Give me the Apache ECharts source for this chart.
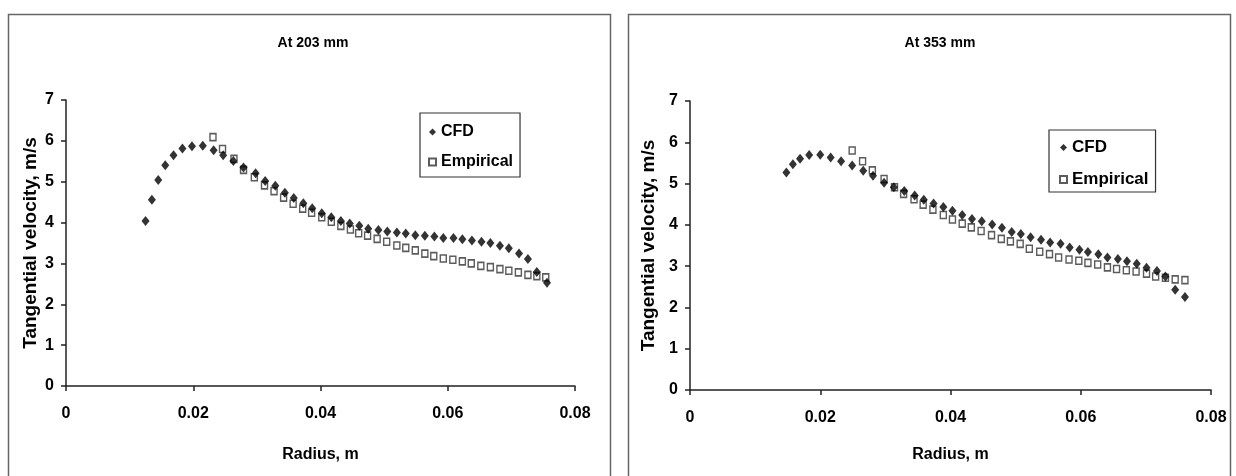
<!DOCTYPE html>
<html>
<head>
<meta charset="utf-8">
<script src="https://cdn.jsdelivr.net/npm/echarts@6/dist/echarts.min.js"></script>
<style>
html,body{margin:0;padding:0;background:#fff;}
#c{width:1236px;height:476px;}
</style>
</head>
<body>
<div id="c"></div>
<script>
// ---- Data ----
const titles = ['At 203 mm', 'At 353 mm'];
const xTicks = [0, 0.02, 0.04, 0.06, 0.08];
const yTicks = [0, 1, 2, 3, 4, 5, 6, 7];

const cfd203X = [0.0125,0.0135,0.0145,0.0156,0.0169,0.0183,0.0198,0.0215,0.0232,0.0247,0.0263,0.0279,0.0298,0.0313,0.0329,0.0344,0.0358,0.0373,0.0387,0.0402,0.0417,0.0432,0.0446,0.0461,0.0475,0.0491,0.0505,0.0520,0.0534,0.0549,0.0564,0.0579,0.0593,0.0609,0.0623,0.0638,0.0653,0.0667,0.0682,0.0696,0.0712,0.0726,0.0740,0.0756];
const cfd203Y = [4.04,4.56,5.04,5.40,5.65,5.81,5.87,5.88,5.77,5.65,5.51,5.35,5.21,5.02,4.90,4.73,4.60,4.47,4.35,4.23,4.13,4.04,3.98,3.92,3.85,3.82,3.78,3.76,3.73,3.69,3.68,3.66,3.62,3.62,3.59,3.56,3.53,3.50,3.43,3.37,3.24,3.11,2.79,2.53];

const emp203X = [0.0231,0.0246,0.0264,0.0279,0.0296,0.0312,0.0327,0.0342,0.0357,0.0372,0.0386,0.0402,0.0417,0.0432,0.0447,0.0460,0.0474,0.0489,0.0504,0.0520,0.0534,0.0549,0.0564,0.0578,0.0593,0.0608,0.0623,0.0637,0.0652,0.0667,0.0682,0.0696,0.0711,0.0726,0.0740,0.0754];
const emp203Y = [6.09,5.80,5.56,5.29,5.11,4.91,4.77,4.61,4.46,4.34,4.24,4.13,4.02,3.92,3.83,3.74,3.68,3.60,3.53,3.44,3.38,3.32,3.24,3.18,3.12,3.09,3.05,3.00,2.94,2.91,2.86,2.82,2.78,2.72,2.69,2.66];

const cfd353X = [0.0148,0.0158,0.0169,0.0183,0.0200,0.0216,0.0232,0.0249,0.0266,0.0281,0.0298,0.0313,0.0329,0.0345,0.0359,0.0374,0.0389,0.0403,0.0418,0.0433,0.0448,0.0464,0.0479,0.0494,0.0508,0.0523,0.0539,0.0553,0.0569,0.0583,0.0598,0.0611,0.0627,0.0641,0.0657,0.0671,0.0686,0.0701,0.0717,0.0730,0.0745,0.0760];
const cfd353Y = [5.27,5.47,5.60,5.69,5.70,5.63,5.54,5.44,5.31,5.19,5.02,4.91,4.82,4.71,4.61,4.52,4.43,4.34,4.24,4.14,4.09,4.01,3.93,3.83,3.78,3.70,3.64,3.57,3.54,3.45,3.40,3.34,3.29,3.21,3.17,3.12,3.06,2.96,2.88,2.75,2.43,2.25];

const emp353X = [0.0249,0.0265,0.0280,0.0298,0.0314,0.0328,0.0344,0.0358,0.0373,0.0389,0.0403,0.0418,0.0432,0.0447,0.0463,0.0478,0.0492,0.0507,0.0521,0.0537,0.0552,0.0566,0.0582,0.0597,0.0611,0.0626,0.0641,0.0655,0.0670,0.0685,0.0701,0.0715,0.0730,0.0745,0.0760];
const emp353Y = [5.80,5.54,5.32,5.11,4.91,4.75,4.62,4.49,4.37,4.24,4.13,4.03,3.94,3.85,3.75,3.66,3.60,3.54,3.42,3.35,3.29,3.21,3.16,3.13,3.08,3.04,2.97,2.93,2.90,2.87,2.82,2.75,2.72,2.68,2.66];

const seriesNames = ['CFD', 'Empirical'];
const xName = 'Radius, m';
const yName = 'Tangential velocity, m/s';

// ---- Build chart ----
function zip(xs, ys) { return xs.map((x, i) => [x, ys[i]]); }
const FONT = '"Liberation Sans Narrow", "Arial Narrow", "Liberation Sans", Arial, sans-serif';
const axisLineStyle = { color: '#222', width: 1.5 };

function xAxisCfg(gi, nameGap) {
  return {
    gridIndex: gi, type: 'value', min: xTicks[0], max: xTicks[xTicks.length - 1], interval: 0.02,
    name: xName, nameLocation: 'middle', nameGap: nameGap,
    nameTextStyle: { fontFamily: FONT, fontWeight: 'bold', fontSize: 16, color: '#000' },
    axisLine: { show: true, lineStyle: axisLineStyle },
    axisTick: { show: true, inside: false, length: 5, lineStyle: axisLineStyle },
    axisLabel: { margin: 20, fontFamily: FONT, fontWeight: 'bold', fontSize: 16, color: '#000' },
    splitLine: { show: false }
  };
}
function yAxisCfg(gi, nameGap) {
  return {
    gridIndex: gi, type: 'value', min: yTicks[0], max: yTicks[yTicks.length - 1], interval: 1,
    name: yName, nameLocation: 'middle', nameGap: nameGap, nameRotate: 90,
    nameTextStyle: { fontFamily: FONT, fontWeight: 'bold', fontSize: 19, color: '#000' },
    axisLine: { show: true, lineStyle: axisLineStyle },
    axisTick: { show: true, inside: false, length: 5, lineStyle: axisLineStyle },
    axisLabel: { margin: 12, fontFamily: FONT, fontWeight: 'bold', fontSize: 16, color: '#000' },
    splitLine: { show: false }
  };
}
function cfdSeries(gi, data) {
  return {
    name: seriesNames[0], type: 'scatter', xAxisIndex: gi, yAxisIndex: gi,
    symbol: 'diamond', symbolSize: [8, 10], z: 3,
    itemStyle: { color: '#000' }, data: data
  };
}
function empSeries(gi, data) {
  return {
    name: seriesNames[1], type: 'scatter', xAxisIndex: gi, yAxisIndex: gi,
    symbol: 'rect', symbolSize: [6, 7], z: 2,
    itemStyle: { color: '#fff', borderColor: '#333', borderWidth: 1.5 }, data: data
  };
}

const chart = echarts.init(document.getElementById('c'), null, { renderer: 'canvas' });
const option = {
  animation: false,
  backgroundColor: '#fff',
  title: [
    { text: titles[0], left: 308, top: 31, textAlign: 'center',
      textStyle: { fontFamily: FONT, fontWeight: 'bold', fontSize: 14, color: '#000' } },
    { text: titles[1], left: 935, top: 31, textAlign: 'center',
      textStyle: { fontFamily: FONT, fontWeight: 'bold', fontSize: 14, color: '#000' } }
  ],
  legend: [
    { data: seriesNames, orient: 'vertical', left: 420, top: 113,
      padding: [11, 7, 7, 8], itemGap: 14, itemWidth: 7, itemHeight: 7,
      borderColor: '#333', borderWidth: 1.2, backgroundColor: '#fff',
      textStyle: { fontFamily: FONT, fontWeight: 'bold', fontSize: 16, color: '#000' } },
    { data: seriesNames, orient: 'vertical', left: 1049, top: 130,
      padding: [9, 7, 4, 10], itemGap: 15, itemWidth: 7, itemHeight: 7,
      borderColor: '#333', borderWidth: 1.2, backgroundColor: '#fff',
      textStyle: { fontFamily: FONT, fontWeight: 'bold', fontSize: 17, color: '#000' } }
  ],
  grid: [
    { left: 66, top: 100, width: 509, height: 286, containLabel: false },
    { left: 690, top: 101, width: 521, height: 289, containLabel: false }
  ],
  xAxis: [xAxisCfg(0, 61), xAxisCfg(1, 57)],
  yAxis: [yAxisCfg(0, 26), yAxisCfg(1, 32)],
  series: [
    empSeries(0, zip(emp203X, emp203Y)),
    cfdSeries(0, zip(cfd203X, cfd203Y)),
    empSeries(1, zip(emp353X, emp353Y)),
    cfdSeries(1, zip(cfd353X, cfd353Y))
  ],
  graphic: [
    { type: 'rect', shape: { x: 8.5, y: 14.5, width: 602, height: 520 },
      style: { fill: null, stroke: '#666', lineWidth: 1.5 }, silent: true, z: -1 },
    { type: 'rect', shape: { x: 628.5, y: 14.5, width: 602, height: 520 },
      style: { fill: null, stroke: '#666', lineWidth: 1.5 }, silent: true, z: -1 }
  ]
};
chart.setOption(option);
</script>
</body>
</html>
